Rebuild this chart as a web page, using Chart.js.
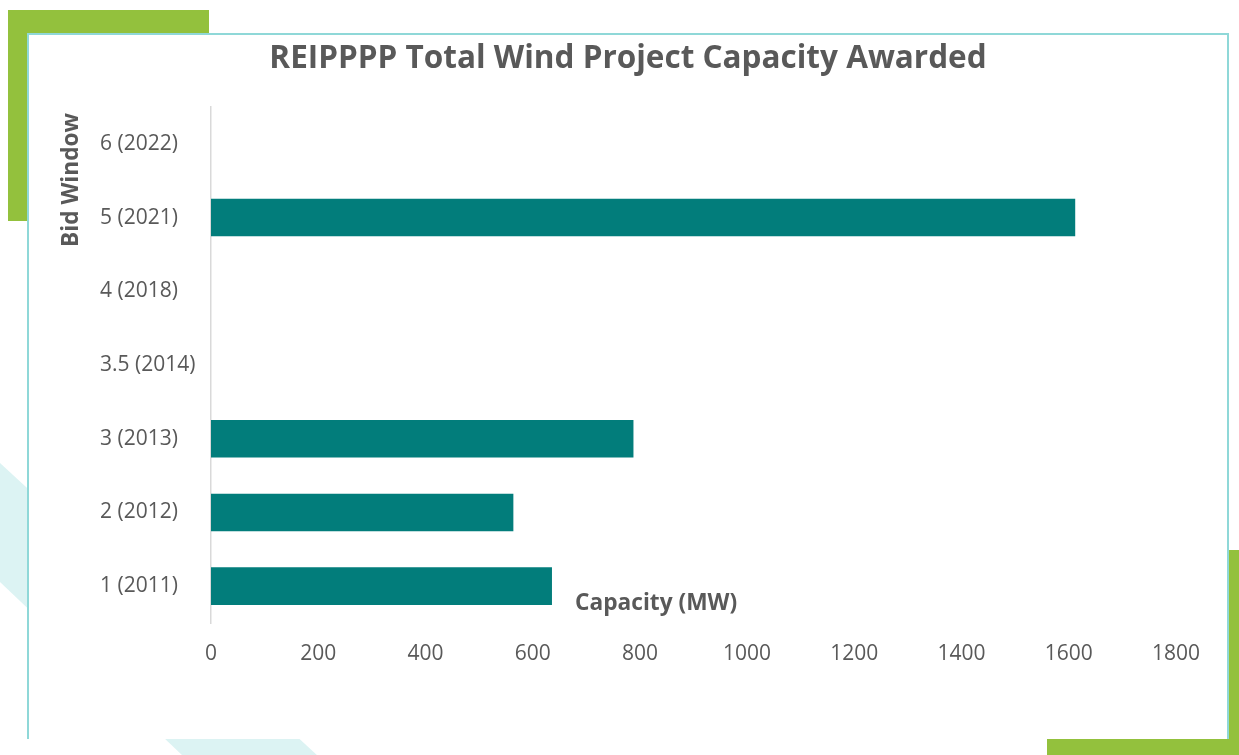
<!DOCTYPE html>
<html>
<head>
<meta charset="utf-8">
<script src="https://cdn.jsdelivr.net/npm/chart.js@4/dist/chart.umd.min.js"></script>
<style>
  html, body { margin: 0; padding: 0; background: #fff; overflow: hidden; }
  #wrap { position: relative; width: 1239px; height: 755px; }
  .deco { position: absolute; }
  #greenTop { left: 8px; top: 10px; width: 201px; height: 211px; background: #93c13d; }
  #greenBottom { left: 1047px; top: 550px; width: 192px; height: 205px; background: #93c13d; }
  #band { left: 0; top: 0; width: 1239px; height: 755px; background: #dcf3f3;
          clip-path: polygon(0px 463px, 318px 756px, 183px 756px, 0px 582px); }
  #card { left: 27px; top: 33px; width: 1198px; height: 704px; background: #fff;
          border: 2px solid #8fd8d8; border-bottom: none; }
  canvas { position: absolute; left: 0; top: 0; }
</style>
</head>
<body>
<div id="wrap">
  <div class="deco" id="greenTop"></div>
  <div class="deco" id="greenBottom"></div>
  <div class="deco" id="band"></div>
  <div class="deco" id="card"></div>
  <canvas id="windChart" width="1239" height="755"></canvas>
</div>
<script>
const bidWindows = ['1 (2011)', '2 (2012)', '3 (2013)', '3.5 (2014)', '4 (2018)', '5 (2021)', '6 (2022)'];
const capacityMW = [636, 564, 788, 0, 0, 1612, 0];
const xTicks = [0, 200, 400, 600, 800, 1000, 1200, 1400, 1600, 1800];

const chartTitle = 'REIPPPP Total Wind Project Capacity Awarded';
const xTitle = 'Capacity (MW)';
const yTitle = 'Bid Window';

const grey = '#595959';
const fontFamily = "'Open Sans', sans-serif";

// titles sit in odd places in the original (Excel style), so draw them by hand
const titlesPlugin = {
    id: 'titles',
    afterDraw(chart) {
        const ctx = chart.ctx;
        ctx.save();
        ctx.fillStyle = grey;
        ctx.textBaseline = 'middle';

        ctx.font = 'bold 31.5px ' + fontFamily;
        ctx.textAlign = 'center';
        ctx.fillText(chartTitle, 628, 59);

        ctx.font = 'bold 22.7px ' + fontFamily;
        ctx.textAlign = 'left';
        ctx.fillText(xTitle, 575, 604);

        ctx.translate(72, 180);
        ctx.rotate(-Math.PI / 2);
        ctx.textAlign = 'center';
        ctx.fillText(yTitle, 0, 0);
        ctx.restore();
    }
};

Chart.defaults.font.family = fontFamily;
Chart.defaults.font.size = 21;
Chart.defaults.color = grey;

const ctx = document.getElementById('windChart');

new Chart(ctx, {
    type: 'bar',
    data: {
        labels: bidWindows,
        datasets: [{
            label: 'Capacity (MW)',
            data: capacityMW,
            backgroundColor: '#027d7b',
            borderWidth: 0,
            categoryPercentage: 1,
            barPercentage: 0.51
        }]
    },
    options: {
        indexAxis: 'y',
        responsive: false,
        animation: false,
        layout: {
            padding: { left: 100, top: 107, right: 63, bottom: 82 }
        },
        scales: {
            x: {
                min: 0,
                max: 1800,
                afterBuildTicks: (scale) => { scale.ticks = xTicks.map(v => ({ value: v })); },
                afterFit: (scale) => { scale.height = 50; },
                grid: { display: false, drawTicks: false },
                border: { display: false },
                ticks: { padding: 18, color: grey, callback: (v) => String(v) }
            },
            y: {
                reverse: true,
                afterFit: (scale) => { scale.width = 111; },
                grid: { display: false, drawTicks: false },
                border: { display: true, color: '#d9d9d9', width: 1.5 },
                ticks: { crossAlign: 'far', color: grey }
            }
        },
        plugins: {
            legend: { display: false },
            tooltip: { enabled: false }
        }
    },
    plugins: [titlesPlugin]
});
</script>
</body>
</html>
